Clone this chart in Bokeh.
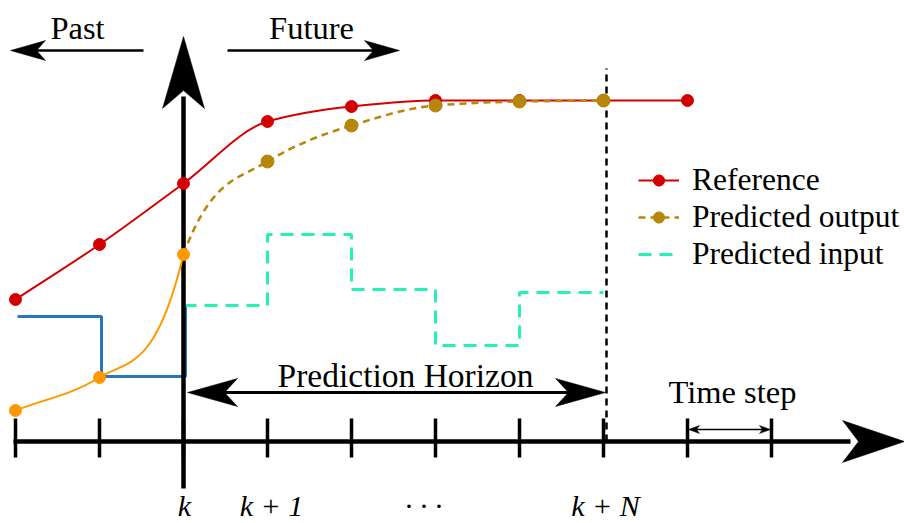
from bokeh.plotting import figure
from bokeh.models import Range1d, Legend, LegendItem
from bokeh.core.properties import value
from bokeh.transform import dodge
from bokeh.embed import file_html
from bokeh.resources import INLINE

# ---------------- data (x in time steps relative to k, y = signal level) ----------------
steps = [-2, -1, 0, 1, 2, 3, 4, 5, 6, 7]
ref_x = [-2, -1, 0, 1, 2, 3, 4, 5, 6]
ref_y = [142, 197, 258, 320, 335, 341, 341, 341, 341]
past_out_x = [-2, -1, 0]
past_out_y = [31, 64, 187]
pred_out_x = [0, 1, 2, 3, 4, 5]
pred_out_y = [187, 280, 316, 336, 340, 341]
past_in_x = [-2, -1, 0]
past_in_y = [125, 65, 136]
pred_in_x = [0, 1, 2, 3, 4, 5]
pred_in_y = [136, 207, 152, 96, 149, 149]
tick_label_x = [0, 1, 3, 5]
tick_labels = ["k", "k + 1", "· · ·", "k + N"]
horizon = 5

# ---------------- styling / layout ----------------
W, H = 904, 523
PX = 84.0          # screen px per time step
K_SCREEN = 183.0   # screen x of step k
AXIS_SCREEN = 441.0
TXT_SHIFT = 11     # compensation of the renderer's alphabetic baseline
FONT_NAME = "Liberation Serif"
FONT = value(FONT_NAME)
RED = "#d40000"
GOLD = "#b8860b"
ORANGE = "#ff9800"
BLUE = "#2878b8"
CYAN = "#25f0b8"
JOIN_IN = 350.0    # tangent of the past-output curve at k
JOIN_OUT = 230.0   # tangent of the predicted-output curve at k


def sx(px):
    return (px - K_SCREEN) / PX


p = figure(width=W, height=H, output_backend="svg", toolbar_location=None,
           x_range=Range1d(sx(0), sx(W)),
           y_range=Range1d(AXIS_SCREEN - H, AXIS_SCREEN),
           x_axis_location=None, y_axis_location=None, min_border=0,
           outline_line_color=None, background_fill_color="white")
p.xgrid.visible = False
p.ygrid.visible = False


def tangents(xs, ys, start=None, end=None):
    d = [(ys[i + 1] - ys[i]) / (xs[i + 1] - xs[i]) for i in range(len(xs) - 1)]
    m = [d[0]]
    for a, b in zip(d[:-1], d[1:]):
        m.append(2 * a * b / (a + b) if a * b > 0 else 0.0)
    m.append(d[-1])
    if start is not None:
        m[0] = start
    if end is not None:
        m[-1] = end
    return m


def bezier_data(xs, ys, m):
    n = len(xs) - 1
    out = dict(x0=[], y0=[], x1=[], y1=[], cx0=[], cy0=[], cx1=[], cy1=[])
    for i in range(n):
        h = xs[i + 1] - xs[i]
        out["x0"].append(xs[i]); out["y0"].append(ys[i])
        out["x1"].append(xs[i + 1]); out["y1"].append(ys[i + 1])
        out["cx0"].append(xs[i] + h / 3); out["cy0"].append(ys[i] + m[i] * h / 3)
        out["cx1"].append(xs[i + 1] - h / 3); out["cy1"].append(ys[i + 1] - m[i + 1] * h / 3)
    return out


def stealth(tip_px, tip_h, d, length, half, notch):
    dx, dy = d
    nx, ny = -dy, dx
    pts = [(tip_px, tip_h),
           (tip_px - length * dx + half * nx, tip_h - length * dy + half * ny),
           (tip_px - (length - notch) * dx, tip_h - (length - notch) * dy),
           (tip_px - length * dx - half * nx, tip_h - length * dy - half * ny)]
    return [sx(a) for a, _ in pts], [b for _, b in pts]


def scr(step):
    return K_SCREEN + step * PX


# ---------------- time axis ----------------
p.segment(x0=[sx(13)], y0=[0], x1=[sx(850)], y1=[0], line_color="black", line_width=4.5)
p.segment(x0=steps, y0=[-16] * len(steps), x1=steps, y1=[23] * len(steps),
          line_color="black", line_width=3.5)

# horizon marker
p.segment(x0=dodge("x", 3 / PX), y0="y0", x1=dodge("x", 3 / PX), y1="y1",
          source=dict(x=[horizon], y0=[0], y1=[373]),
          line_color="black", line_width=2.5, line_dash="7 5")

# inputs
p.step(x=dodge("x", 2 / PX), y="y", source=dict(x=past_in_x, y=past_in_y), mode="after",
       line_color=BLUE, line_width=3)
cyan = p.step(x=pred_in_x, y=pred_in_y, mode="after", line_color=CYAN, line_width=3,
              line_dash="13 8")

# vertical axis at k
p.segment(x0=[0], y0=[-47], x1=[0], y1=[345], line_color="black", line_width=4.5)

# curves
p.bezier(source=bezier_data(ref_x, ref_y, tangents(ref_x, ref_y)),
         x0="x0", y0="y0", x1="x1", y1="y1", cx0="cx0", cy0="cy0", cx1="cx1", cy1="cy1",
         line_color=RED, line_width=2)
p.bezier(source=bezier_data(past_out_x, past_out_y, tangents(past_out_x, past_out_y, end=JOIN_IN)),
         x0="x0", y0="y0", x1="x1", y1="y1", cx0="cx0", cy0="cy0", cx1="cx1", cy1="cy1",
         line_color=ORANGE, line_width=2)
p.bezier(source=bezier_data(pred_out_x, pred_out_y, tangents(pred_out_x, pred_out_y, start=JOIN_OUT)),
         x0="x0", y0="y0", x1="x1", y1="y1", cx0="cx0", cy0="cy0", cx1="cx1", cy1="cy1",
         line_color=GOLD, line_width=2.5, line_dash="7 5")

red_dots = p.scatter(ref_x, ref_y, size=12, color=RED)
p.scatter(past_out_x, past_out_y, size=12, color=ORANGE)
gold_dots = p.scatter(pred_out_x[1:], pred_out_y[1:], size=13, color=GOLD)

# arrows
heads_x, heads_y = [], []
def add_head(*args):
    xs, ys = stealth(*args)
    heads_x.append(xs); heads_y.append(ys)

add_head(K_SCREEN, 405, (0, 1), 72, 21, 18)          # vertical axis
add_head(904, 0, (1, 0), 62, 21, 16)                 # time axis
add_head(10, 391, (-1, 0), 35, 10, 9)                # Past
add_head(399, 391, (1, 0), 35, 10, 9)                # Future
add_head(scr(0) + 4, 49, (-1, 0), 50, 14, 13)        # horizon left
add_head(scr(horizon) + 2, 49, (1, 0), 50, 14, 13)   # horizon right
add_head(scr(6) + 1, 12, (-1, 0), 11, 4, 3)          # time step
add_head(scr(7) - 1, 12, (1, 0), 11, 4, 3)
p.patches(xs=heads_x, ys=heads_y, color="black", line_width=0.5)

p.segment(x0=[sx(30), sx(227), sx(scr(0) + 30), sx(scr(6) + 5)],
          y0=[391, 391, 49, 12],
          x1=[sx(143), sx(375), sx(scr(horizon) - 30), sx(scr(7) - 5)],
          y1=[391, 391, 49, 12],
          line_color="black", line_width=[2.5, 2.5, 3, 1.5])

# texts
p.text(x=[sx(77), sx(311), sx(732)], y=[403 + TXT_SHIFT, 403 + TXT_SHIFT, 39 + TXT_SHIFT],
       text=["Past", "Future", "Time step"],
       text_font=FONT, text_font_size="32.5px", text_align="center",
       text_baseline="alphabetic", text_color="black")
p.text(x=[sx(405)], y=[55 + TXT_SHIFT], text=["Prediction Horizon"],
       text_font=FONT, text_font_size="33.5px", text_align="center",
       text_baseline="alphabetic", text_color="black")
p.text(x=tick_label_x, y=[-75 + TXT_SHIFT] * len(tick_label_x), text=tick_labels,
       x_offset=[1, 4, -12, 2],
       text_font=FONT, text_font_size="30px", text_font_style="italic",
       text_align="center", text_baseline="alphabetic", text_color="black")

# legend
ref_leg = p.line(x=[ref_x[-1]], y=[ref_y[-1]], line_color=RED, line_width=2)
gold_leg = p.line(x=[pred_out_x[-1]], y=[pred_out_y[-1]], line_color=GOLD, line_width=2.5,
                  line_dash="7 5")
legend = Legend(items=[
    LegendItem(label="Reference", renderers=[ref_leg, red_dots]),
    LegendItem(label="Predicted output", renderers=[gold_leg, gold_dots]),
    LegendItem(label="Predicted input", renderers=[cyan]),
], location=(638, 251), padding=0, margin=0, spacing=0,
    glyph_width=41, glyph_height=28, label_height=37, label_standoff=13,
    label_text_font=FONT_NAME, label_text_font_size="31.5px", label_text_color="black",
    border_line_color=None, background_fill_alpha=0)
p.add_layout(legend)

open("out.html", "w").write(file_html(p, INLINE))
